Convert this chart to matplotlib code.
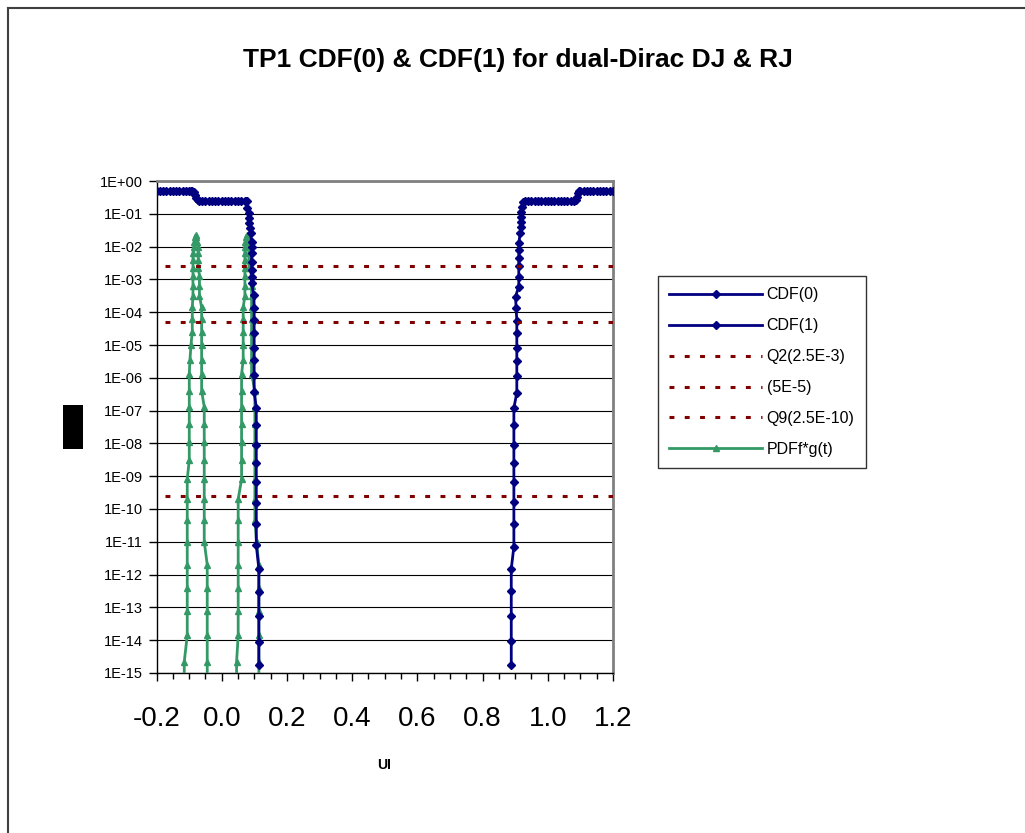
import matplotlib
matplotlib.use("Agg")
import matplotlib.pyplot as plt
from matplotlib.ticker import FixedLocator, MultipleLocator
from matplotlib.patches import Rectangle
from matplotlib.lines import Line2D

plt.rcParams['font.family'] = ['Liberation Sans', 'DejaVu Sans']

# CDF(0): plateau 0.5, step to 0.25, then the steep drop
cdf0_x = [-0.20, -0.19, -0.18, -0.17, -0.16, -0.15, -0.14, -0.13, -0.12, -0.11, -0.10, -0.095, -0.09,
          -0.086, -0.082, -0.078, -0.074, -0.070,
          -0.06, -0.05, -0.04, -0.03, -0.02, -0.01, 0.0, 0.01, 0.02, 0.03, 0.04, 0.05, 0.06, 0.07, 0.075,
          0.0763, 0.0781, 0.0824, 0.0833, 0.0842, 0.0864, 0.0885, 0.0916, 0.0925, 0.0916, 0.0916, 0.0916,
          0.0916, 0.0916, 0.0986, 0.0995, 0.0995, 0.0995, 0.0995, 0.0995, 0.0995, 0.0995,
          0.106, 0.106, 0.106, 0.106, 0.106, 0.106, 0.106, 0.106,
          0.1139, 0.1139, 0.1139, 0.1139, 0.1139]
cdf0_y = [0.5, 0.5, 0.5, 0.5, 0.5, 0.5, 0.5, 0.5, 0.5, 0.5, 0.5, 0.5, 0.5,
          0.46, 0.38, 0.31, 0.27, 0.25,
          0.25, 0.25, 0.25, 0.25, 0.25, 0.25, 0.25, 0.25, 0.25, 0.25, 0.25, 0.25, 0.25, 0.25, 0.25,
          0.24, 0.15, 0.105, 0.072, 0.051, 0.036, 0.026, 0.014, 0.01, 6.3e-3, 3.5e-3, 1.9e-3,
          1.2e-3, 7.6e-4, 3.3e-4, 1.3e-4, 5.8e-5, 2.4e-5, 8.3e-6, 3.5e-6, 1.2e-6, 3.8e-7,
          1.2e-7, 3.6e-8, 8.9e-9, 2.5e-9, 6.8e-10, 1.5e-10, 3.6e-11, 7.9e-12,
          1.5e-12, 3.0e-13, 5.5e-14, 8.9e-15, 1.7e-15]

# CDF(1): steep rise, plateau 0.25, step to 0.5
cdf1_x = [0.888, 0.888, 0.888, 0.888, 0.888,
          0.896, 0.896, 0.896, 0.896, 0.896, 0.896, 0.896, 0.896,
          0.905, 0.905, 0.905, 0.905, 0.905, 0.905, 0.903, 0.901,
          0.911, 0.911, 0.911, 0.911, 0.911, 0.911, 0.9155, 0.9185, 0.9185, 0.9185, 0.9185, 0.9216,
          0.925, 0.93, 0.94, 0.95, 0.96, 0.97, 0.98, 0.99, 1.00, 1.01, 1.02, 1.03, 1.04, 1.05, 1.06,
          1.07, 1.08, 1.087, 1.090, 1.093, 1.097,
          1.10, 1.11, 1.12, 1.13, 1.14, 1.15, 1.16, 1.17, 1.18, 1.19, 1.20]
cdf1_y = [1.7e-15, 9.5e-15, 5.5e-14, 3.2e-13, 1.5e-12,
          7.1e-12, 3.4e-11, 1.6e-10, 6.5e-10, 2.6e-9, 8.9e-9, 3.6e-8, 1.2e-7,
          3.5e-7, 1.1e-6, 3.3e-6, 7.9e-6, 2.3e-5, 5.5e-5, 1.3e-4, 3.0e-4,
          6.0e-4, 1.2e-3, 2.5e-3, 4.4e-3, 7.9e-3, 1.26e-2, 2.6e-2, 4.1e-2, 5.8e-2, 8.1e-2, 0.115, 0.166,
          0.23, 0.25, 0.25, 0.25, 0.25, 0.25, 0.25, 0.25, 0.25, 0.25, 0.25, 0.25, 0.25, 0.25, 0.25,
          0.25, 0.25, 0.27, 0.33, 0.42, 0.48,
          0.5, 0.5, 0.5, 0.5, 0.5, 0.5, 0.5, 0.5, 0.5, 0.5, 0.5]

# PDF f*g(t): two narrow peaks, values read per level (apex first, last one below the axis)
pdf_levels = [2.2e-2, 1.9e-2, 1.4e-2, 1.0e-2, 6.3e-3, 4.0e-3, 2.2e-3, 1.3e-3, 6.3e-4, 3.2e-4,
              1.4e-4, 6.3e-5, 2.5e-5, 1.0e-5, 3.5e-6, 1.3e-6, 4.0e-7, 1.3e-7, 4.0e-8, 1.1e-8,
              3.2e-9, 8.0e-10, 2.0e-10, 4.5e-11, 1.0e-11, 2.0e-12, 4.0e-13, 8.0e-14, 1.4e-14, 2.2e-15,
              3.0e-16]
peak_a_x = -0.0799
peak_b_x = 0.0763
leg_a_left = [-0.0821, -0.0836, -0.0851, -0.0882, -0.0882, -0.0882, -0.0882, -0.0882, -0.0882,
              -0.0903, -0.0903, -0.0903, -0.0943, -0.0974, -0.0995, -0.0995, -0.0995, -0.0995,
              -0.0995, -0.0995, -0.1057, -0.1057, -0.1057, -0.1057, -0.1057, -0.1057, -0.1057,
              -0.1057, -0.1149, -0.1149]
leg_a_right = [-0.0775, -0.0744, -0.0729, -0.0720, -0.0720, -0.0720, -0.0683, -0.0683, -0.0683,
               -0.0616, -0.0616, -0.0616, -0.0616, -0.0616, -0.0616, -0.0616, -0.0536, -0.0536,
               -0.0536, -0.0536, -0.0536, -0.0536, -0.0536, -0.0536, -0.0444, -0.0444, -0.0444,
               -0.0444, -0.0444, -0.0444]
leg_b_left = [0.0741, 0.0726, 0.0711, 0.0711, 0.0711, 0.0711, 0.0711, 0.0711, 0.0711,
              0.0659, 0.0659, 0.0659, 0.0659, 0.0659, 0.0609, 0.0609, 0.0609, 0.0609,
              0.0609, 0.0609, 0.0609, 0.0505, 0.0505, 0.0505, 0.0505, 0.0505, 0.0505,
              0.0505, 0.0456, 0.0456]
leg_b_right = [0.0787, 0.0802, 0.0833, 0.0833, 0.0833, 0.0833, 0.0916, 0.0916, 0.0916,
               0.0916, 0.0916, 0.0916, 0.0916, 0.0916, 0.0916, 0.1017, 0.1017, 0.1017,
               0.1017, 0.1017, 0.1017, 0.1017, 0.1017, 0.1069, 0.1139, 0.1139, 0.1139,
               0.1139, 0.1139, 0.1139]

# horizontal reference levels
ref_levels = [2.5e-3, 5e-5, 2.5e-10]
ref_labels = ['Q2(2.5E-3)', '(5E-5)', 'Q9(2.5E-10)']
ref_x = [-0.175, 1.25]

x_ticks = [-0.2, 0.0, 0.2, 0.4, 0.6, 0.8, 1.0, 1.2]
x_labels = ['-0.2', '0.0', '0.2', '0.4', '0.6', '0.8', '1.0', '1.2']
y_ticks = [1e0, 1e-1, 1e-2, 1e-3, 1e-4, 1e-5, 1e-6, 1e-7, 1e-8, 1e-9, 1e-10, 1e-11, 1e-12, 1e-13, 1e-14, 1e-15]
y_labels = ['1E+00', '1E-01', '1E-02', '1E-03', '1E-04', '1E-05', '1E-06', '1E-07', '1E-08',
            '1E-09', '1E-10', '1E-11', '1E-12', '1E-13', '1E-14', '1E-15']

# build the single PDF series: up the left leg, apex, down the right leg, twice
levels_down = pdf_levels[1:]
pdf_x = (leg_a_left[::-1] + [peak_a_x] + leg_a_right
         + leg_b_left[::-1] + [peak_b_x] + leg_b_right)
pdf_y = (levels_down[::-1] + [pdf_levels[0]] + levels_down
         + levels_down[::-1] + [pdf_levels[0]] + levels_down)

W, H = 1025, 833
fig = plt.figure(figsize=(W / 100, H / 100), dpi=100)
ax = fig.add_axes([156.5 / W, 1 - 673 / H, (613 - 156.5) / W, (673 - 181) / H])

navy = '#000080'
green = '#339966'
darkred = '#800000'

ax.plot(cdf0_x, cdf0_y, color=navy, lw=2, marker='D', ms=4, label='CDF(0)', zorder=4)
ax.plot(cdf1_x, cdf1_y, color=navy, lw=2, marker='D', ms=4, label='CDF(1)', zorder=4)
for lev, lab in zip(ref_levels, ref_labels):
    ax.plot(ref_x, [lev, lev], color=darkred, lw=2.2, linestyle=(0, (1.6, 3.4)),
            dash_capstyle='butt', label=lab, zorder=5)
ax.plot(pdf_x, pdf_y, color=green, lw=2, marker='^', ms=5, label='PDFf*g(t)', zorder=3)

ax.set_yscale('log')
ax.set_xlim(-0.2, 1.2)
ax.set_ylim(1e-15, 1)

ax.yaxis.set_major_locator(FixedLocator(y_ticks))
ax.yaxis.set_minor_locator(FixedLocator([]))
ax.set_yticklabels(y_labels, fontsize=10.5)
ax.set_xticks(x_ticks)
ax.set_xticklabels(x_labels, fontsize=20)
ax.xaxis.set_minor_locator(MultipleLocator(0.05))
ax.tick_params(axis='x', which='major', direction='out', length=6, width=1, pad=18)
ax.tick_params(axis='x', which='minor', direction='out', length=4, width=1)
ax.tick_params(axis='y', which='major', direction='out', length=6, width=1, pad=4)

ax.grid(axis='y', which='major', color='black', lw=0.8)
ax.set_axisbelow(True)
for side in ['top', 'right']:
    ax.spines[side].set_color('#808080')
    ax.spines[side].set_linewidth(2)
for side in ['left', 'bottom']:
    ax.spines[side].set_color('black')
    ax.spines[side].set_linewidth(1)

leg = ax.legend(loc='upper left', bbox_to_anchor=(658 / W, 1 - 276 / H),
                bbox_transform=fig.transFigure, fontsize=11.5, numpoints=1,
                handlelength=5.8, labelspacing=1.0, fancybox=False, borderpad=0.7,
                handletextpad=0.3, borderaxespad=0)
leg.get_frame().set_edgecolor('black')
leg.get_frame().set_linewidth(1)

fig.text(518 / W, 1 - 60 / H, 'TP1 CDF(0) & CDF(1) for dual-Dirac DJ & RJ',
         ha='center', va='center', fontsize=19, fontweight='bold')
fig.text(384.5 / W, 1 - 765 / H, 'UI', ha='center', va='center', fontsize=10, fontweight='bold')

# redacted axis title block and the chart-area frame
fig.patches.append(Rectangle((63 / W, 1 - 449 / H), 20 / W, 44 / H, transform=fig.transFigure,
                             facecolor='black', edgecolor='none'))
fig.lines.append(Line2D([8 / W, 8 / W], [0, 1 - 8 / H], transform=fig.transFigure, color='#404040', lw=1.5))
fig.lines.append(Line2D([8 / W, 1], [1 - 8 / H, 1 - 8 / H], transform=fig.transFigure, color='#404040', lw=1.5))

fig.savefig('out.png', dpi=100)
